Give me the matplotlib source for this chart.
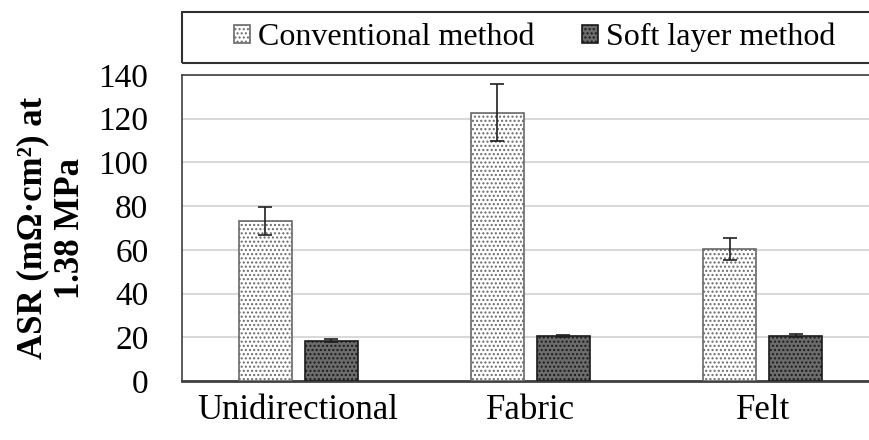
import matplotlib.pyplot as plt
import numpy as np
from matplotlib.patches import Rectangle

plt.rcParams['font.family'] = ['Liberation Serif', 'DejaVu Serif']
plt.rcParams['hatch.linewidth'] = 1.0

categories = ['Unidirectional', 'Fabric', 'Felt']
conventional = [73.2, 122.7, 60.4]
conventional_err = [6.6, 13.0, 5.0]
soft_layer = [18.5, 20.6, 20.8]
soft_layer_err = [0.8, 0.5, 0.6]

x = np.arange(len(categories))
w = 0.228
off = 0.142

fig = plt.figure(figsize=(8.7, 4.4), dpi=100)
ax = fig.add_axes([0.209, 0.134, 1.0103 - 0.209, 0.8295 - 0.134])

ax.bar(x - off, conventional, w, yerr=conventional_err, color='white',
       edgecolor='#6a6a6a', hatch='....', linewidth=1.2, zorder=3,
       error_kw=dict(ecolor='#202020', elinewidth=1.2, capsize=5, capthick=1.2, zorder=4),
       label='Conventional method')
ax.bar(x + off, soft_layer, w, yerr=soft_layer_err, color='#6c6c6c',
       edgecolor='#1a1a1a', hatch='....', linewidth=1.2, zorder=3,
       error_kw=dict(ecolor='#202020', elinewidth=1.2, capsize=5, capthick=1.2, zorder=4),
       label='Soft layer method')

ax.set_xlim(-0.5, 2.5)
ax.set_ylim(0, 140)
ax.set_yticks(range(0, 141, 20))
ax.set_xticks(x)
ax.set_xticklabels(categories)
ax.tick_params(axis='y', length=0, pad=24, labelsize=24)
ax.tick_params(axis='x', length=0, pad=9, labelsize=25)
ax.yaxis.grid(True, color='#d9d9d9', linewidth=1.5, zorder=0)
ax.set_axisbelow(True)

for s in ['left', 'top', 'right']:
    ax.spines[s].set_color('#404040')
    ax.spines[s].set_linewidth(1.2)
ax.spines['bottom'].set_color('#404040')
ax.spines['bottom'].set_linewidth(2)

ax.set_ylabel('ASR (mΩ·cm²) at\n1.38 MPa', fontsize=25, fontweight='bold',
              linespacing=1.22, labelpad=8)

# legend box above the plot
box = Rectangle((0, 1.04), 1.02, 0.167, transform=ax.transAxes, fill=False,
                edgecolor='#303030', linewidth=1.5, clip_on=False)
ax.add_patch(box)
ax.legend(loc='center', bbox_to_anchor=(0.506, 1.122), ncol=2, frameon=False,
          fontsize=23, handlelength=0.5, handleheight=0.5, handletextpad=0.25,
          columnspacing=1.5, borderaxespad=0)

fig.savefig('out.png', dpi=100)
